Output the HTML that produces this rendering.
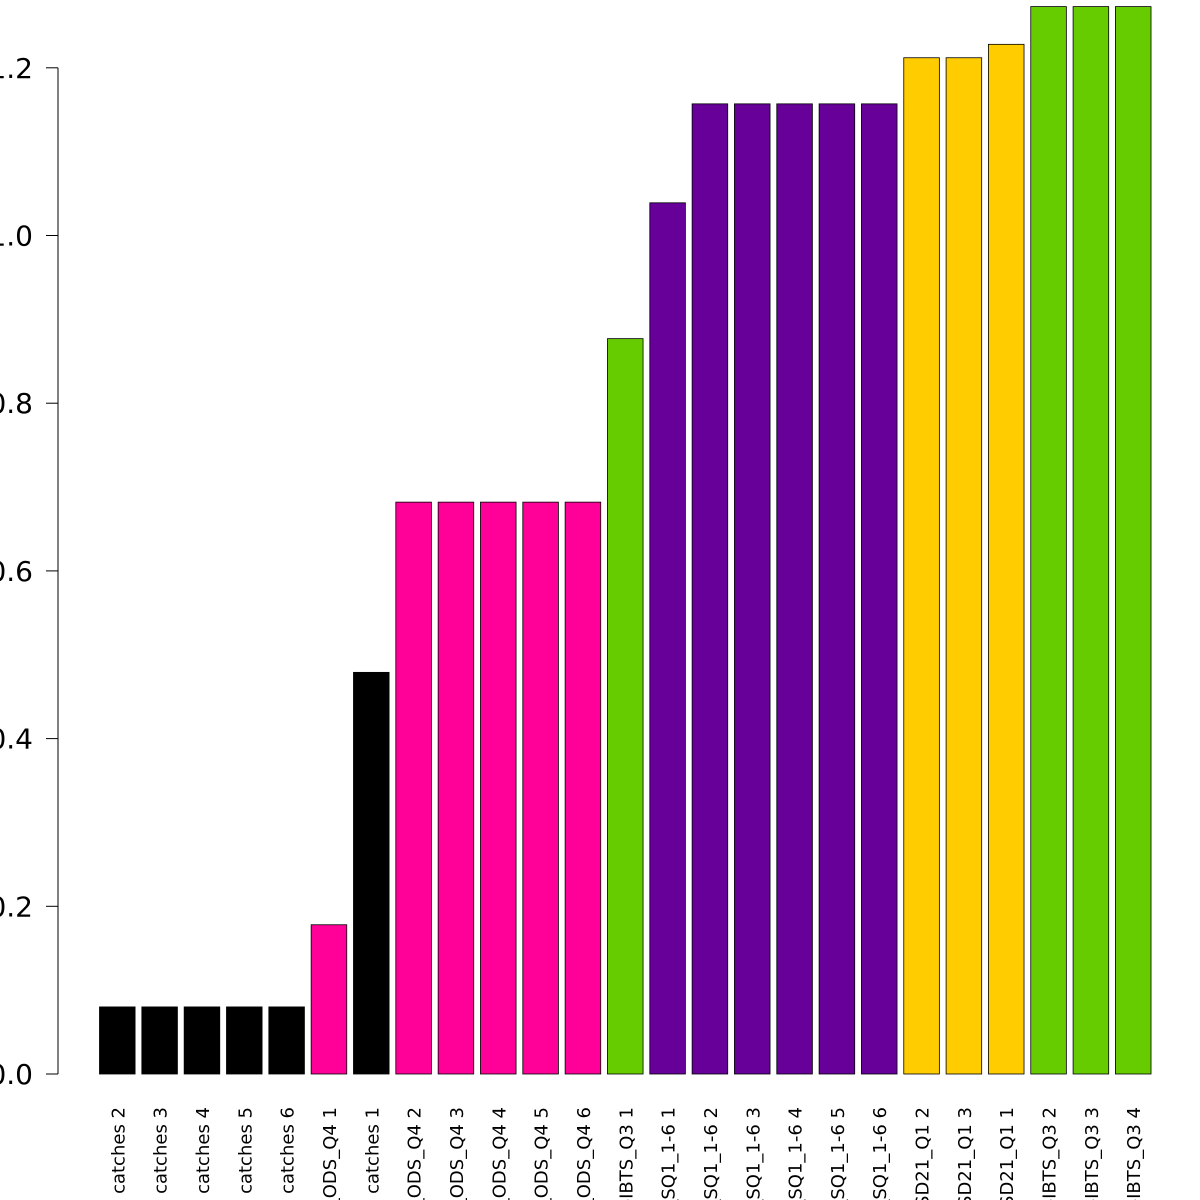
<!DOCTYPE html>
<html><head><meta charset="utf-8"><style>
html,body{margin:0;padding:0;background:#fff;overflow:hidden}
svg{display:block;font-family:"DejaVu Sans","Liberation Sans",sans-serif}
</style></head><body>
<svg id="chart" width="1200" height="1200"></svg>
<script>
const categories=["catches 2","catches 3","catches 4","catches 5","catches 6","BITS_ODS_Q4 1","catches 1","BITS_ODS_Q4 2","BITS_ODS_Q4 3","BITS_ODS_Q4 4","BITS_ODS_Q4 5","BITS_ODS_Q4 6","NS-IBTS_Q3 1","DBS_SQ1_1-6 1","DBS_SQ1_1-6 2","DBS_SQ1_1-6 3","DBS_SQ1_1-6 4","DBS_SQ1_1-6 5","DBS_SQ1_1-6 6","BITS_SD21_Q1 2","BITS_SD21_Q1 3","BITS_SD21_Q1 1","NS-IBTS_Q3 2","NS-IBTS_Q3 3","NS-IBTS_Q3 4"];
const values=[0.08,0.08,0.08,0.08,0.08,0.178,0.479,0.682,0.682,0.682,0.682,0.682,0.877,1.039,1.157,1.157,1.157,1.157,1.157,1.212,1.212,1.228,1.273,1.273,1.273];
const colors=["#000000","#000000","#000000","#000000","#000000","#ff0099","#000000","#ff0099","#ff0099","#ff0099","#ff0099","#ff0099","#66cc00","#660099","#660099","#660099","#660099","#660099","#660099","#ffcc00","#ffcc00","#ffcc00","#66cc00","#66cc00","#66cc00"];
const yTicks=[0,0.2,0.4,0.6,0.8,1.0,1.2];
const yTickLabels=["0.0","0.2","0.4","0.6","0.8","1.0","1.2"];
const NS="http://www.w3.org/2000/svg";
const svg=document.getElementById('chart');
const y0=1074,pxPer=838.5;
function yScale(v){return y0-v*pxPer;}
function xLeft(i){return 99.5+i*42.33;}
const barW=35.6;
function mk(t,a){const e=document.createElementNS(NS,t);for(const k in a)e.setAttribute(k,a[k]);return e;}
values.forEach((v,i)=>{
  const r=mk('rect',{x:xLeft(i),y:yScale(v),width:barW,height:y0-yScale(v),fill:colors[i],stroke:'#000','stroke-width':0.8});
  
  
  svg.appendChild(r);
  const cx=xLeft(i)+barW/2;
  const t=mk('text',{x:0,y:0,'font-size':18,'text-anchor':'end',transform:`translate(${cx+7},1107) rotate(-90)`});
  t.textContent=categories[i];
  
  
  svg.appendChild(t);
});
const ax=mk('line',{x1:58,x2:58,y1:yScale(yTicks[yTicks.length-1]),y2:yScale(0),stroke:'#000','stroke-width':1});


svg.appendChild(ax);
yTicks.forEach((v,i)=>{
  const y=yScale(v);
  const tk=mk('line',{x1:46,x2:58,y1:y,y2:y,stroke:'#000','stroke-width':1});
  
  
  svg.appendChild(tk);
  const t=mk('text',{x:33,y:y+10,'font-size':28,'text-anchor':'end'});
  t.textContent=yTickLabels[i];
  
  
  svg.appendChild(t);
});
</script>
</body></html>
